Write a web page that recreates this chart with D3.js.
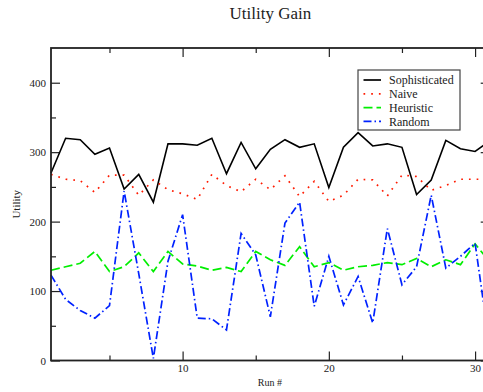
<!DOCTYPE html>
<html>
<head>
<meta charset="utf-8">
<script src="https://cdn.jsdelivr.net/npm/d3@7"></script>
<style>
  body { margin: 0; background: #fff; }
  svg text { font-family: "Liberation Serif", "Times New Roman", serif; }
  .axis path, .axis line { stroke: #222; }
  .axis text { font-size: 11px; fill: #222; font-family: "Liberation Serif", serif; }
</style>
</head>
<body>
<div id="chart"></div>
<script>
const runs = d3.range(1, 32);

const sophisticated = [270, 320, 318, 297, 306, 247, 268, 228, 312, 312, 310, 320, 269, 314, 276,
  304, 318, 307, 312, 249, 307, 328, 309, 312, 307, 239, 260, 317, 305, 301, 316];
const naive = [268, 261, 259, 242, 267, 267, 238, 260, 246, 240, 232, 268, 252, 243, 261,
  246, 266, 236, 258, 229, 238, 261, 260, 237, 267, 265, 245, 252, 261, 261, 261];
const heuristic = [130, 135, 140, 157, 128, 135, 155, 128, 157, 139, 136, 130, 134, 128, 157,
  145, 137, 164, 135, 141, 130, 135, 137, 141, 138, 147, 135, 145, 138, 168, 142];
const random = [123, 88, 72, 61, 79, 244, 125, 3, 143, 210, 61, 60, 44, 183, 152,
  63, 198, 228, 78, 150, 80, 121, 54, 190, 109, 135, 238, 133, 150, 169, 20];

const seriesNames = ['Sophisticated', 'Naive', 'Heuristic', 'Random'];
const yMajorTicks = [0, 100, 200, 300, 400];
const yMinorTicks = [50, 150, 250, 350];
const xMajorTicks = [10, 20, 30];
const xMinorTicks = [5, 15, 25];

const styles = {
  Sophisticated: { color: '#000000', dash: null },
  Naive: { color: '#ff1a00', dash: '1.7,6' },
  Heuristic: { color: '#00ee00', dash: '9,4' },
  Random: { color: '#0022ff', dash: '8,3,1.5,3' }
};

const serif = '"Liberation Serif", "Times New Roman", serif';
const width = 483, height = 392;
const margin = { left: 51, top: 48, right: 0, bottom: 31 };
const plotW = 438.7, plotH = 312.5;

const svg = d3.select('#chart').append('svg')
  .attr('width', width)
  .attr('height', height);

const x = d3.scaleLinear().domain([1, 31]).range([0, plotW]);
const y = d3.scaleLinear().domain([0, 450]).range([plotH, 0]);

const g = svg.append('g').attr('transform', `translate(${margin.left},${margin.top})`);

// title
svg.append('text')
  .attr('x', margin.left + plotW / 2)
  .attr('y', 19)
  .attr('text-anchor', 'middle')
  .style('font-family', serif)
  .style('font-size', '17px')
  .style('fill', '#222')
  .text('Utility Gain');

// axes (ticks point inward)
const addAxis = (axis, cls, tf) => {
  const a = g.append('g').attr('class', 'axis ' + cls).attr('transform', tf).call(axis);
  a.select('.domain').remove();
  return a;
};

addAxis(d3.axisLeft(y).tickValues(yMajorTicks).tickSize(-9).tickPadding(5), 'y-left', null);
addAxis(d3.axisLeft(y).tickValues(yMinorTicks).tickSize(-5).tickFormat(''), 'y-left-minor', null);
addAxis(d3.axisRight(y).tickValues(yMajorTicks).tickSize(-9).tickFormat(''), 'y-right', `translate(${plotW},0)`);
addAxis(d3.axisRight(y).tickValues(yMinorTicks).tickSize(-5).tickFormat(''), 'y-right-minor', `translate(${plotW},0)`);
addAxis(d3.axisBottom(x).tickValues(xMajorTicks).tickSize(-9).tickFormat(d3.format('d')), 'x-bottom', `translate(0,${plotH})`)
  .selectAll('text').attr('dy', '0.71em').attr('y', 4);
addAxis(d3.axisBottom(x).tickValues(xMinorTicks).tickSize(-5).tickFormat(''), 'x-bottom-minor', `translate(0,${plotH})`);
addAxis(d3.axisTop(x).tickValues(xMajorTicks).tickSize(-9).tickFormat(''), 'x-top', null);
addAxis(d3.axisTop(x).tickValues(xMinorTicks).tickSize(-5).tickFormat(''), 'x-top-minor', null);

g.selectAll('.axis line').attr('stroke-width', 1.2);

// series
const dataBySeries = {
  Sophisticated: sophisticated,
  Naive: naive,
  Heuristic: heuristic,
  Random: random
};

const line = d3.line()
  .x((d, i) => x(runs[i]))
  .y(d => y(d));

const plot = g.append('g');
seriesNames.forEach(name => {
  plot.append('path')
    .datum(dataBySeries[name])
    .attr('fill', 'none')
    .attr('stroke', styles[name].color)
    .attr('stroke-width', name === 'Sophisticated' ? 1.6 : 1.7)
    .attr('stroke-dasharray', styles[name].dash)
    .attr('d', line);
});

// frame
g.append('rect')
  .attr('width', plotW)
  .attr('height', plotH)
  .attr('fill', 'none')
  .attr('stroke', '#222')
  .attr('stroke-width', 1.8);

// axis labels
svg.append('text')
  .attr('transform', `translate(20,${margin.top + plotH / 2}) rotate(-90)`)
  .attr('text-anchor', 'middle')
  .style('font-family', serif)
  .style('font-size', '11px')
  .style('fill', '#222')
  .text('Utility');

svg.append('text')
  .attr('x', margin.left + plotW / 2 - 0.5)
  .attr('y', 386)
  .attr('text-anchor', 'middle')
  .style('font-family', serif)
  .style('font-size', '10px')
  .style('fill', '#222')
  .text('Run #');

// legend
const legend = svg.append('g').attr('transform', 'translate(358,70)');
legend.append('rect')
  .attr('width', 102)
  .attr('height', 60)
  .attr('fill', '#fff')
  .attr('stroke', '#444')
  .attr('stroke-width', 1.2);

seriesNames.forEach((name, i) => {
  const yy = 10 + i * 13.8;
  legend.append('line')
    .attr('x1', 5.5).attr('x2', 23)
    .attr('y1', yy).attr('y2', yy)
    .attr('stroke', styles[name].color)
    .attr('stroke-width', 1.7)
    .attr('stroke-dasharray', styles[name].dash);
  legend.append('text')
    .attr('x', 31)
    .attr('y', yy)
    .attr('dy', '0.35em')
    .style('font-family', serif)
    .style('font-size', '12px')
    .style('fill', '#222')
    .text(name);
});
</script>
</body>
</html>
